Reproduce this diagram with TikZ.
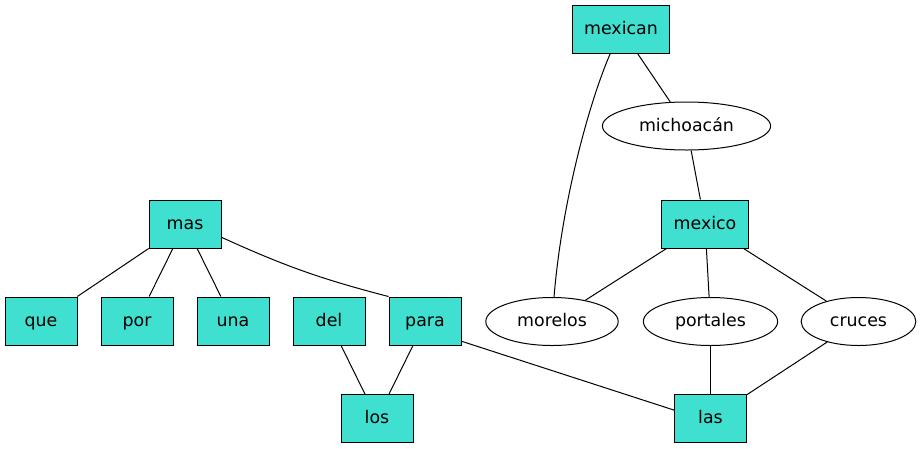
\documentclass[tikz,border=0pt]{standalone}
\usepackage{fontspec}
\setmainfont{DejaVu Sans}
\usepackage{tikz}
\usetikzlibrary{shapes.geometric}
\definecolor{turq}{HTML}{40E0D0}

\begin{document}
\begin{tikzpicture}[x=1pt, y=-1pt, line width=1pt, word/.style = {draw, font=\fontsize{17.4}{20}\selectfont, text height=14pt, text depth=3.4pt, inner xsep=12pt, inner ysep=0pt}, wordbox/.style = {word, rectangle, fill=turq, minimum width=72pt, minimum height=48pt}, wordell/.style = {word, ellipse, minimum height=48pt}]

    \useasboundingbox (0,0) rectangle (920,448);

    % boxes
    \node[wordbox] (mexican) at (621,29) {mexican};
    \node[wordbox] (mas) at (185,224) {mas};
    \node[wordbox] (mexico) at (705,224) {mexico};
    \node[wordbox] (que) at (41,321) {que};
    \node[wordbox] (por) at (137,321) {por};
    \node[wordbox] (una) at (233,321) {una};
    \node[wordbox] (del) at (329,321) {del};
    \node[wordbox] (para) at (425,321) {para};
    \node[wordbox] (los) at (377,418.5) {los};
    \node[wordbox] (las) at (710.5,418.5) {las};

    % ellipses
    \node[wordell] (michoacan) at (686.5,126) {michoacán};
    \node[wordell] (morelos) at (552,321.5) {morelos};
    \node[wordell] (portales) at (710.5,321.5) {portales};
    \node[wordell] (cruces) at (858.5,321.5) {cruces};

    % edges
    \draw (mexican) -- (michoacan);
    \draw (mexican) .. controls (590,100) and (562,200) .. (morelos);
    \draw (michoacan) -- (mexico);
    \draw (mexico) -- (morelos);
    \draw (mexico) -- (portales);
    \draw (mexico) -- (cruces);
    \draw (mas) -- (que);
    \draw (mas) -- (por);
    \draw (mas) -- (una);
    \draw (mas.-20) to[bend right=5] (para.north west);
    \draw (del) -- (los);
    \draw (para) -- (los);
    \draw (para.-29) -- (las.167);
    \draw (portales) -- (las);
    \draw (cruces) -- (las);

\end{tikzpicture}
\end{document}
